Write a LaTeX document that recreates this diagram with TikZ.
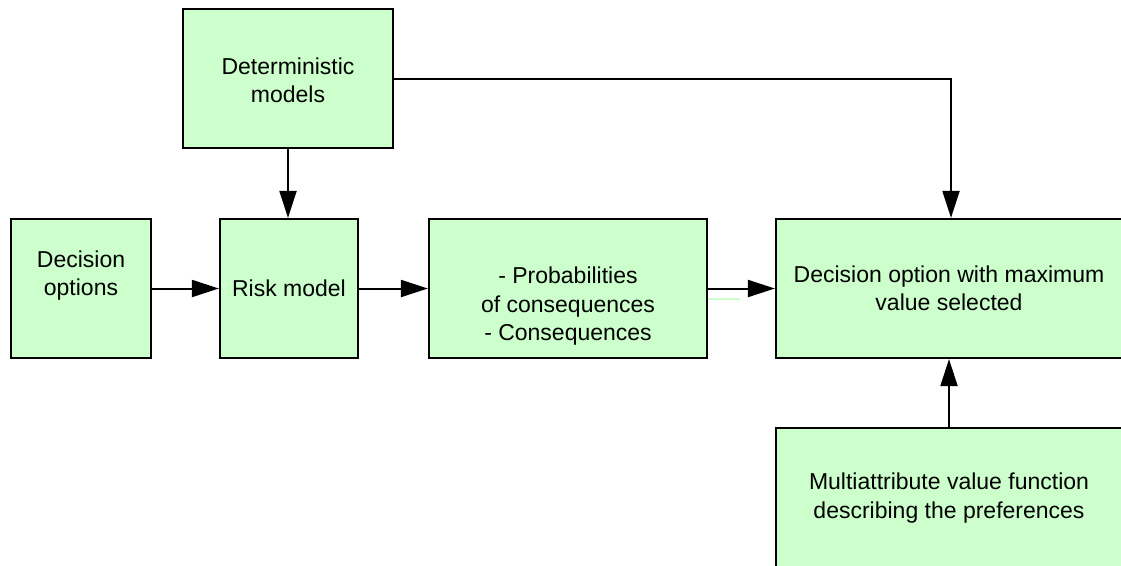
\documentclass[tikz,border=0pt]{standalone}
\usepackage{fontspec}
\setmainfont{Liberation Sans}
\usetikzlibrary{arrows.meta}
\definecolor{boxgreen}{HTML}{CCFFCC}
\tikzset{
  box/.style={draw=black, fill=boxgreen, line width=2.2pt, rectangle, inner sep=0pt},
  txt/.style={align=center, inner sep=0pt, font=\fontsize{23}{28.5}\selectfont},
  conn/.style={line width=2pt, -{Triangle[length=27pt,width=17pt]}},
}
\begin{document}
\begin{tikzpicture}[x=1pt,y=-1pt]
\useasboundingbox (0,0) rectangle (1121,565);
\clip (0,0) rectangle (1121,565);
\fill[white] (0,0) rectangle (1121,565);
% boxes
\node[box, minimum width=210pt, minimum height=139pt] (det) at (288,78.5) {};
\node[box, minimum width=140pt, minimum height=139pt] (opt) at (81,288.5) {};
\node[box, minimum width=138pt, minimum height=139pt] (risk) at (289,288.5) {};
\node[box, minimum width=278pt, minimum height=139pt] (prob) at (568,288.5) {};
\node[box, minimum width=346pt, minimum height=139pt] (dec) at (949,288.5) {};
\node[box, minimum width=346pt, minimum height=140pt] (mav) at (949,498) {};
% texts
\node[txt] (det-t) at ([yshift=-2pt]det.center) {Deterministic\\models};
\node[txt] (opt-t) at ([yshift=13pt]opt.center) {Decision\\options};
\node[txt] (risk-t) at (risk.center) {Risk model};
\node[txt] (prob-t) at ([yshift=-18pt]prob.center) {- Probabilities\\of consequences\\- Consequences};
\node[txt] (dec-t) at (dec.center) {Decision option with maximum\\value selected};
\node[txt] (mav-t) at (mav.center) {Multiattribute value function\\describing the preferences};
% connectors
\draw[conn] (opt.east) -- (risk.west);
\draw[conn] (risk.east) -- (prob.west);
\draw[conn] (prob.east) -- (dec.west);
\draw[conn] (det.south) -- (det.south |- risk.north);
\draw[conn] (det.east) -| ([xshift=2pt]dec.north);
\draw[conn] (mav.north) -- (dec.south);
% stray light line
\coordinate (s1) at (708,299);
\coordinate (s2) at (740,299);
\draw[boxgreen, line width=2pt] (s1) -- (s2);
\end{tikzpicture}
\end{document}
